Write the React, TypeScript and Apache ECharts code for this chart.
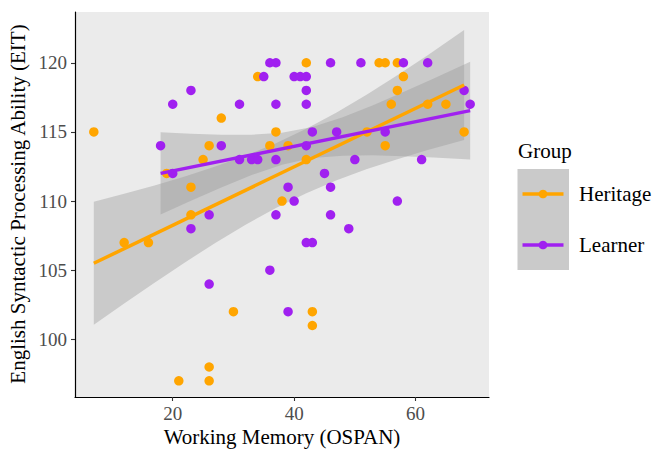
import React, { useEffect, useRef } from "react";
import * as echarts from "echarts";

// Scatter data
const heritageX = [7, 12, 16, 19, 21, 23, 23, 25, 26, 26, 26, 28, 30, 34, 36, 37, 38, 39, 42, 42, 43, 43, 52, 54, 55, 55, 56, 57, 57, 58, 62, 65, 68];
const heritageY = [115, 107, 107, 112, 97, 111, 109, 113, 114, 98, 97, 116, 102, 119, 114, 115, 110, 114, 120, 113, 102, 101, 115, 120, 120, 114, 117, 120, 118, 119, 117, 117, 115];
const learnerX = [18, 20, 20, 23, 23, 26, 26, 28, 31, 31, 33, 34, 35, 36, 36, 37, 37, 37, 37, 39, 39, 40, 40, 41, 42, 42, 42, 42, 42, 43, 43, 45, 46, 46, 46, 47, 49, 50, 51, 55, 57, 58, 61, 62, 68, 69];
const learnerY = [114, 112, 117, 118, 108, 109, 104, 114, 117, 113, 113, 113, 119, 120, 105, 120, 117, 113, 109, 111, 102, 119, 110, 119, 119, 118, 117, 114, 107, 115, 107, 112, 120, 111, 109, 115, 108, 113, 120, 115, 110, 120, 113, 120, 118, 117];

// Fitted lines (end points)
const heritageFitX = [7, 68];
const heritageFitY = [105.5, 118.39];
const learnerFitX = [18, 69];
const learnerFitY = [112.0, 116.54];

// Confidence ribbons
const heritageBandX = [7, 12, 17, 22, 27, 32, 37, 42, 47, 52, 57, 62, 68];
const heritageBandLo = [101.05, 102.59, 104.09, 105.56, 106.97, 108.29, 109.5, 110.57, 111.5, 112.31, 113.03, 113.69, 114.42];
const heritageBandHi = [109.95, 110.53, 111.13, 111.78, 112.49, 113.27, 114.18, 115.23, 116.4, 117.71, 119.09, 120.55, 122.36];
const learnerBandX = [18, 23, 28, 33, 38, 43, 48, 53, 58, 63, 69];
const learnerBandLo = [109.03, 110.03, 110.98, 111.88, 112.63, 113.11, 113.28, 113.31, 113.24, 113.15, 113.01];
const learnerBandHi = [114.97, 114.87, 114.8, 114.8, 114.93, 115.35, 116.06, 116.93, 117.88, 118.87, 120.07];

// Axis ticks
const xTicks = [20, 40, 60];
const yTicks = [100, 105, 110, 115, 120];

const groups = ["Heritage", "Learner"];
const ORANGE = "#FFA500";
const PURPLE = "#A020F0";
const FONT = "'Liberation Serif', 'Times New Roman', serif";

function pairs(xs: number[], ys: number[]) {
  return xs.map((x, i) => [x, ys[i]]);
}

function ribbonSeries(xs: number[], lo: number[], hi: number[]) {
  const data = xs.map((x, i) => [x, lo[i], hi[i]]);
  return {
    type: "custom",
    silent: true,
    data,
    encode: { x: 0, y: [1, 2] },
    renderItem: (params: any, api: any) => {
      if (params.dataIndex !== 0) return null;
      const upper = data.map((d) => api.coord([d[0], d[2]]));
      const lower = data.map((d) => api.coord([d[0], d[1]])).reverse();
      return {
        type: "polygon",
        shape: { points: upper.concat(lower) },
        style: { fill: "rgba(153,153,153,0.4)" },
      };
    },
  };
}

function lineSeries(xs: number[], ys: number[], color: string) {
  return {
    type: "line",
    data: pairs(xs, ys),
    showSymbol: false,
    silent: true,
    lineStyle: { color, width: 3.5 },
    itemStyle: { color },
  };
}

export default function App() {
  const ref = useRef<HTMLDivElement>(null);
  useEffect(() => {
    if (!ref.current) return;
    const chart = echarts.init(ref.current, null, { renderer: "svg" });
    const axisCommon = {
      type: "value",
      splitLine: { show: false },
      axisLine: { show: true, lineStyle: { color: "#000", width: 1.2 } },
      axisTick: { show: true, length: 4, lineStyle: { color: "#333", width: 1.1 } },
    };
    chart.setOption({
      animation: false,
      grid: {
        left: 75,
        right: 166,
        top: 12,
        bottom: 53,
        show: true,
        backgroundColor: "#EBEBEB",
        borderWidth: 0,
      },
      xAxis: {
        ...axisCommon,
        min: 3.9,
        max: 72.1,
        axisTick: { ...axisCommon.axisTick, customValues: xTicks },
        axisLabel: {
          customValues: xTicks,
          color: "#4D4D4D",
          fontSize: 19,
          fontFamily: FONT,
          margin: 7,
        },
      },
      yAxis: {
        ...axisCommon,
        min: 95.83,
        max: 123.67,
        axisTick: { ...axisCommon.axisTick, customValues: yTicks },
        axisLabel: {
          customValues: yTicks,
          color: "#4D4D4D",
          fontSize: 19,
          fontFamily: FONT,
          margin: 8,
        },
      },
      series: [
        {
          type: "scatter",
          name: groups[0],
          data: pairs(heritageX, heritageY),
          symbolSize: 9.5,
          itemStyle: { color: ORANGE, opacity: 1 },
          silent: true,
        },
        {
          type: "scatter",
          name: groups[1],
          data: pairs(learnerX, learnerY),
          symbolSize: 9.5,
          itemStyle: { color: PURPLE, opacity: 1 },
          silent: true,
        },
        ribbonSeries(heritageBandX, heritageBandLo, heritageBandHi),
        lineSeries(heritageFitX, heritageFitY, ORANGE),
        ribbonSeries(learnerBandX, learnerBandLo, learnerBandHi),
        lineSeries(learnerFitX, learnerFitY, PURPLE),
      ],
      graphic: [
        {
          type: "text",
          x: 18,
          y: 204,
          rotation: Math.PI / 2,
          style: {
            text: "English Syntactic Processing Ability (EIT)",
            fill: "#000",
            fontSize: 21,
            fontFamily: FONT,
            align: "center",
            verticalAlign: "middle",
          },
        },
        {
          type: "text",
          x: 282,
          y: 437,
          style: {
            text: "Working Memory (OSPAN)",
            fill: "#000",
            fontSize: 21,
            fontFamily: FONT,
            align: "center",
            verticalAlign: "middle",
          },
        },
        {
          type: "text",
          x: 518,
          y: 151,
          style: {
            text: "Group",
            fill: "#000",
            fontSize: 21,
            fontFamily: FONT,
            align: "left",
            verticalAlign: "middle",
          },
        },
        {
          type: "rect",
          shape: { x: 517.5, y: 169, width: 51.5, height: 101 },
          style: { fill: "#CACACA" },
        },
        {
          type: "line",
          shape: { x1: 522.5, y1: 194, x2: 563.5, y2: 194 },
          style: { stroke: ORANGE, lineWidth: 3.5 },
        },
        {
          type: "circle",
          shape: { cx: 543, cy: 194, r: 4.3 },
          style: { fill: ORANGE },
        },
        {
          type: "line",
          shape: { x1: 522.5, y1: 245, x2: 563.5, y2: 245 },
          style: { stroke: PURPLE, lineWidth: 3.5 },
        },
        {
          type: "circle",
          shape: { cx: 543, cy: 245, r: 4.3 },
          style: { fill: PURPLE },
        },
        {
          type: "text",
          x: 579,
          y: 194,
          style: {
            text: groups[0],
            fill: "#000",
            fontSize: 21,
            fontFamily: FONT,
            align: "left",
            verticalAlign: "middle",
          },
        },
        {
          type: "text",
          x: 579,
          y: 245,
          style: {
            text: groups[1],
            fill: "#000",
            fontSize: 21,
            fontFamily: FONT,
            align: "left",
            verticalAlign: "middle",
          },
        },
      ],
    });
    return () => chart.dispose();
  }, []);
  return (
    <div
      ref={ref}
      style={{ position: "fixed", left: 0, top: 0, width: 655, height: 450, background: "#fff" }}
    />
  );
}
